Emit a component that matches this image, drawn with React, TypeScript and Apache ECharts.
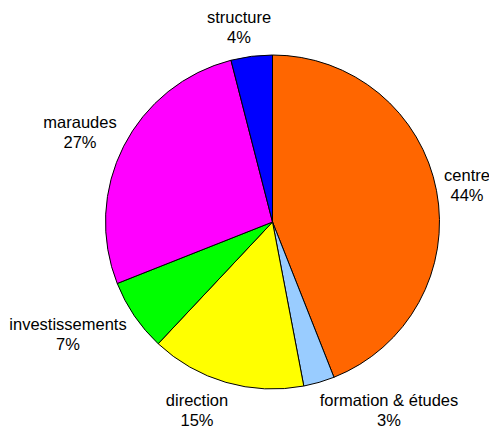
import React, { useEffect, useRef } from "react";
import * as echarts from "echarts";

const categories = ["centre", "formation & études", "direction", "investissements", "maraudes", "structure"];
const values = [44, 3, 15, 7, 27, 4];
const colors = ["#FF6600", "#99CCFF", "#FFFF00", "#00FF00", "#FF00FF", "#0000FF"];
// label centres (layout only)
const labelCenters: [number, number][] = [
  [467, 185],
  [389, 410],
  [197, 410],
  [68, 334],
  [80, 132],
  [239, 27],
];

export default function App() {
  const ref = useRef<HTMLDivElement>(null);
  useEffect(() => {
    const chart = echarts.init(ref.current!, null, { renderer: "svg" });
    chart.setOption({
      animation: false,
      backgroundColor: "#ffffff",
      series: [
        {
          type: "pie",
          center: [272.5, 222],
          radius: 167,
          startAngle: 90,
          clockwise: true,
          avoidLabelOverlap: false,
          data: categories.map((c, i) => ({
            name: c,
            value: values[i],
            itemStyle: { color: colors[i] },
          })),
          itemStyle: { borderColor: "#000000", borderWidth: 1 },
          label: {
            show: true,
            position: "outside",
            formatter: (p: any) => `${p.name}\n${Math.round(p.percent)}%`,
            fontFamily: "Liberation Sans",
            fontSize: 16.5,
            lineHeight: 20,
            color: "#000000",
            align: "center",
          },
          labelLine: { show: false },
          labelLayout: (params: any) => {
            const pos = labelCenters[params.dataIndex];
            return { x: pos[0], y: pos[1], align: "center", verticalAlign: "middle" };
          },
          emphasis: { disabled: true },
        },
      ],
    });
    return () => chart.dispose();
  }, []);
  return <div ref={ref} style={{ width: 489, height: 430, position: "absolute", left: 0, top: 0 }} />;
}
